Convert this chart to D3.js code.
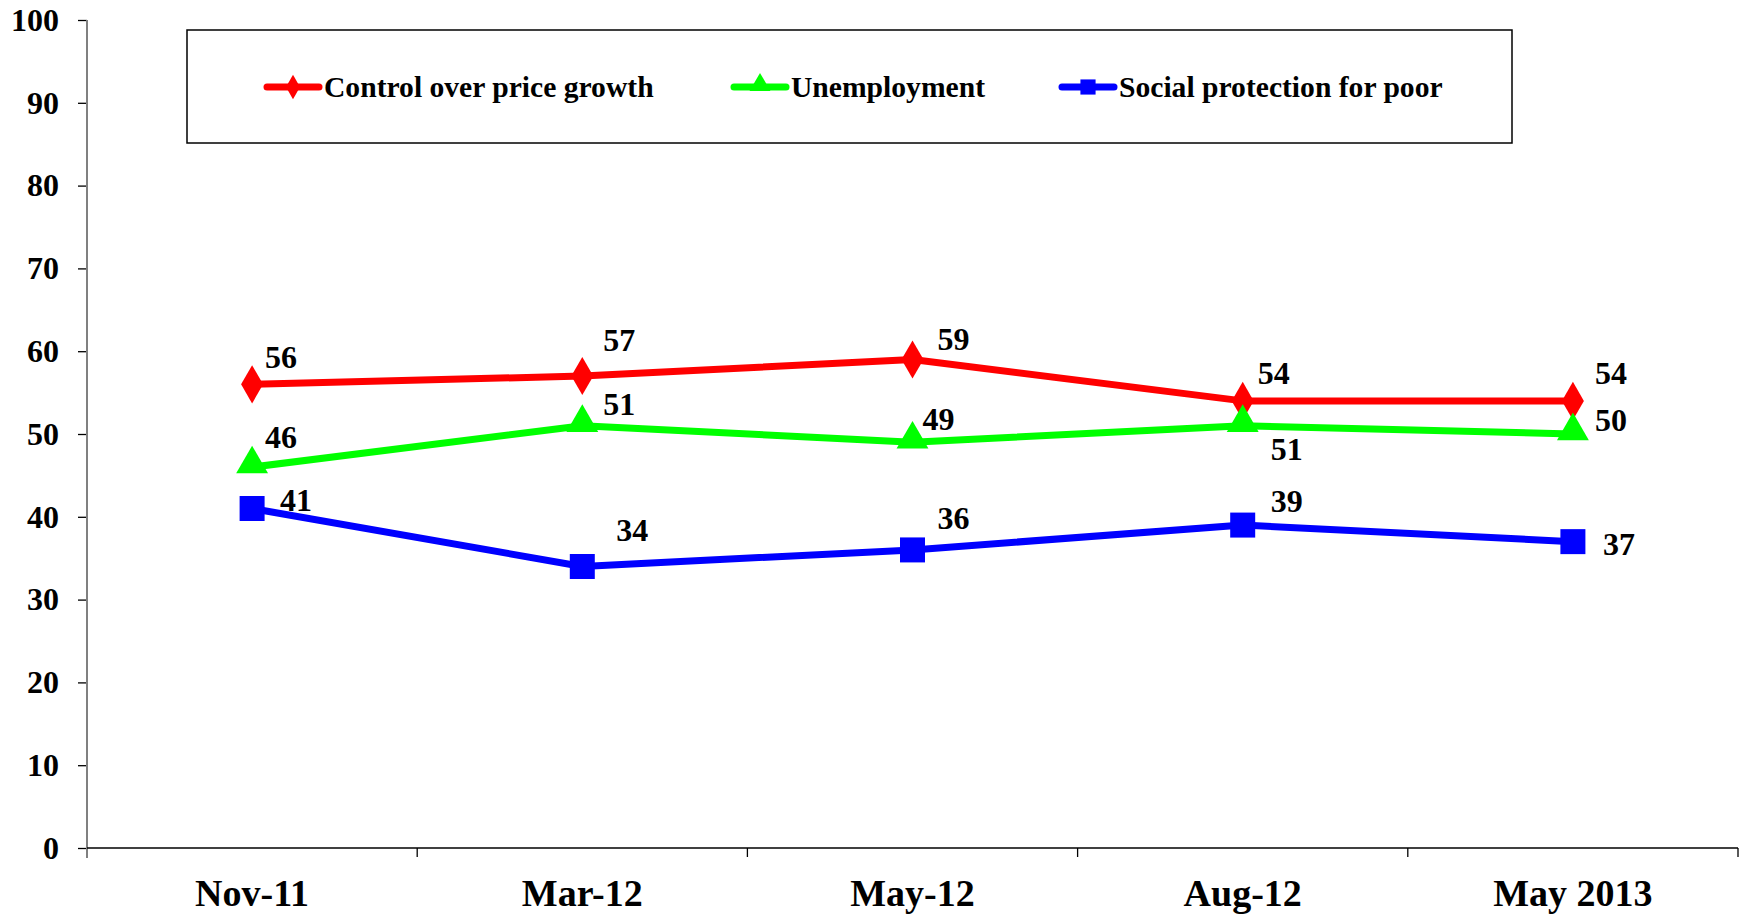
<!DOCTYPE html>
<html lang="en">
<head>
<meta charset="UTF-8"/>
<title>Priorities line chart</title>
<script src="https://d3js.org/d3.v7.min.js"></script>
<style>
  body { margin: 0; background: #fff; }
  text { font-family: "Liberation Serif", "Times New Roman", serif; font-weight: bold; }
</style>
</head>
<body>
<script>
    var w = 1744;
    var h = 914;

    // data
    var categories = ["Nov-11", "Mar-12", "May-12", "Aug-12", "May 2013"];
    var priceGrowth = [56, 57, 59, 54, 54];
    var unemployment = [46, 51, 49, 51, 50];
    var socialProtection = [41, 34, 36, 39, 37];
    var seriesNames = ["Control over price growth", "Unemployment", "Social protection for poor"];
    var yTicks = [0, 10, 20, 30, 40, 50, 60, 70, 80, 90, 100];

    // label placement (layout only), per series per point: [dx, dy]
    var labelOffsets = [
        [[29, -27], [37, -36], [41, -20], [31, -28], [38, -28]],
        [[29, -30], [37, -22], [26, -23], [44, 23], [38, -14]],
        [[44, -9], [50, -36], [41, -32], [44, -24], [46, 2]]
    ];

    var series = [
        {name: seriesNames[0], values: priceGrowth, color: "#ff0000", shape: d3.symbolDiamond},
        {name: seriesNames[1], values: unemployment, color: "#00ff00", shape: d3.symbolTriangle},
        {name: seriesNames[2], values: socialProtection, color: "#0000ff", shape: d3.symbolSquare}
    ];

    var plotLeft = 87, plotRight = 1738, plotTop = 20, plotBottom = 848;

    var xScale = d3.scaleBand()
        .domain(categories)
        .range([plotLeft, plotRight]);

    var yScale = d3.scaleLinear()
        .domain([0, 100])
        .range([plotBottom, plotTop]);

    function cx(c) { return xScale(c) + xScale.bandwidth() / 2; }

    var svg = d3.select("body")
        .append("svg")
        .attr("width", w)
        .attr("height", h);

    // y axis
    var yAxis = d3.axisLeft(yScale).tickValues(yTicks).tickSize(9).tickPadding(19);
    var gy = svg.append("g")
        .attr("transform", "translate(" + plotLeft + ",0)")
        .call(yAxis);
    gy.select(".domain").remove();
    gy.selectAll(".tick line").attr("stroke", "#000").attr("stroke-width", 1.3);
    gy.selectAll(".tick text")
        .style("font-family", "'Liberation Serif', 'Times New Roman', serif")
        .style("font-weight", "bold")
        .style("font-size", "32px")
        .attr("fill", "#000");
    svg.append("line")
        .attr("x1", plotLeft).attr("x2", plotLeft)
        .attr("y1", plotTop).attr("y2", plotBottom + 10)
        .attr("stroke", "#808080").attr("stroke-width", 2);

    // x axis
    svg.append("line")
        .attr("x1", plotLeft).attr("x2", plotRight)
        .attr("y1", plotBottom).attr("y2", plotBottom)
        .attr("stroke", "#000").attr("stroke-width", 1.5);

    var bounds = categories.map(function(c) { return xScale(c); }).concat([plotRight]);
    svg.selectAll(".xtick")
        .data(bounds.slice(1))
        .enter()
        .append("line")
        .attr("class", "xtick")
        .attr("x1", function(d) { return d; })
        .attr("x2", function(d) { return d; })
        .attr("y1", plotBottom)
        .attr("y2", plotBottom + 9)
        .attr("stroke", "#000")
        .attr("stroke-width", 1.3);

    svg.selectAll(".xlabel")
        .data(categories)
        .enter()
        .append("text")
        .attr("class", "xlabel")
        .attr("x", function(d) { return cx(d); })
        .attr("y", 893)
        .attr("text-anchor", "middle")
        .attr("dominant-baseline", "central")
        .style("font-size", "38px")
        .text(function(d) { return d; });

    // lines
    var line = d3.line()
        .x(function(d, i) { return cx(categories[i]); })
        .y(function(d) { return yScale(d); });

    series.forEach(function(s) {
        svg.append("path")
            .datum(s.values)
            .attr("d", line)
            .attr("fill", "none")
            .attr("stroke", s.color)
            .attr("stroke-width", 7)
            .attr("stroke-linejoin", "round");
    });

    // markers
    var markerSize = [420, 440, 625];
    series.forEach(function(s, si) {
        svg.selectAll(".m" + si)
            .data(s.values)
            .enter()
            .append("path")
            .attr("class", "m" + si)
            .attr("d", d3.symbol().type(s.shape).size(markerSize[si]))
            .attr("transform", function(d, i) {
                var dy = si == 1 ? -3 : 0;
                return "translate(" + cx(categories[i]) + "," + (yScale(d) + dy) + ")";
            })
            .attr("fill", s.color);
    });

    // value labels
    series.forEach(function(s, si) {
        svg.selectAll(".v" + si)
            .data(s.values)
            .enter()
            .append("text")
            .attr("class", "v" + si)
            .attr("x", function(d, i) { return cx(categories[i]) + labelOffsets[si][i][0]; })
            .attr("y", function(d, i) { return yScale(d) + labelOffsets[si][i][1]; })
            .attr("text-anchor", "middle")
            .attr("dominant-baseline", "central")
            .style("font-size", "32px")
            .text(function(d) { return d; });
    });

    // legend
    var legend = svg.append("g");
    legend.append("rect")
        .attr("x", 187).attr("y", 30)
        .attr("width", 1325).attr("height", 113)
        .attr("fill", "#fff")
        .attr("stroke", "#000")
        .attr("stroke-width", 1.5);

    var legendX = [267, 734, 1062];
    var legendSize = [170, 190, 230];
    series.forEach(function(s, si) {
        var g = legend.append("g").attr("transform", "translate(" + legendX[si] + ",87)");
        g.append("line")
            .attr("x1", 0).attr("x2", 52)
            .attr("y1", 0).attr("y2", 0)
            .attr("stroke", s.color)
            .attr("stroke-width", 7)
            .attr("stroke-linecap", "round");
        g.append("path")
            .attr("d", d3.symbol().type(s.shape).size(legendSize[si]))
            .attr("transform", "translate(26," + (si == 1 ? -2 : 0) + ")")
            .attr("fill", s.color);
        g.append("text")
            .attr("x", 57)
            .attr("y", 0)
            .attr("dominant-baseline", "central")
            .style("font-size", "29.6px")
            .text(s.name);
    });
</script>
</body>
</html>
